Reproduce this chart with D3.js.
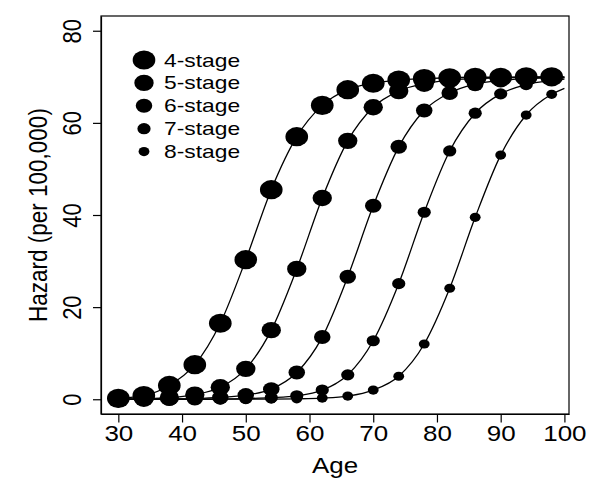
<!DOCTYPE html>
<html>
<head>
<meta charset="utf-8">
<script src="https://cdn.jsdelivr.net/npm/d3@7"></script>
<style>
  body { margin: 0; background: #fff; }
  text { font-family: "Liberation Sans", Arial, sans-serif; fill: #000; }
</style>
</head>
<body>
<svg id="chart"></svg>
<script>
// set svg size and plot margins
const width = 600;
const height = 489;

const margin = {
  top: 16,
  bottom: 75,
  left: 101,
  right: 31
};

// the reference is a bit wider than tall, so text and dots get stretched sideways
const SX = 1.18;

// values, one per age
const ages = [30, 34, 38, 42, 46, 50, 54, 58, 62, 66, 70, 74, 78, 82, 86, 90, 94, 98];

const stage4 = [0.2, 0.8, 3.0, 7.5, 16.5, 30.3, 45.5, 57.0, 63.8, 67.2, 68.6, 69.3, 69.6, 69.8, 69.9, 69.9, 70.0, 70.0];
const stage5 = [0.0, 0.1, 0.35, 1.0, 2.6, 6.6, 15.0, 28.3, 43.7, 56.1, 63.4, 66.9, 68.5, 69.3, 69.6, 69.8, 69.9, 69.9];
const stage6 = [0.0, 0.0, 0.05, 0.15, 0.4, 0.9, 2.2, 5.8, 13.5, 26.6, 42.0, 54.8, 62.7, 66.5, 68.4, 69.2, 69.6, 69.8];
const stage7 = [0.0, 0.0, 0.0, 0.02, 0.05, 0.15, 0.35, 0.75, 2.0, 5.3, 12.7, 25.1, 40.6, 53.9, 62.1, 66.3, 68.3, 69.2];
const stage8 = [0.0, 0.0, 0.0, 0.0, 0.01, 0.02, 0.05, 0.1, 0.25, 0.7, 2.0, 5.0, 12.0, 24.1, 39.5, 53.0, 61.7, 66.2];

// the fitted curves run on a little past the last dot
const endAge = 100;
const endValues = [70.0, 69.9, 69.8, 69.5, 67.5];

const stageNames = ["4-stage", "5-stage", "6-stage", "7-stage", "8-stage"];
const xTicks = [30, 40, 50, 60, 70, 80, 90, 100];
const yTicks = [0, 20, 40, 60, 80];

const series = [stage4, stage5, stage6, stage7, stage8];
const dotSize = [9.6, 8.2, 7.0, 5.6, 4.6];

const plotWidth = width - margin.left - margin.right;
const plotHeight = height - margin.top - margin.bottom;

const svg = d3.select("#chart")
  .attr("width", width)
  .attr("height", height);

const plot = svg.append("g")
  .attr("id", "plot")
  .attr("transform", translate(margin.left, margin.top));

// R pads the data range by 4% on each side
const xScale = d3.scaleLinear()
  .domain(pad([30, 98]))
  .range([0, plotWidth]);

const yScale = d3.scaleLinear()
  .domain(pad([0, 80]))
  .range([plotHeight, 0]);

drawAxis();
drawCurves();
drawLegend();
drawTitles();

function drawCurves() {
  let line = d3.line()
    .x(d => xScale(d[0]))
    .y(d => yScale(d[1]))
    .curve(d3.curveMonotoneX);

  series.forEach((values, i) => {
    let pts = ages.map((a, j) => [a, values[j]]);

    plot.append("path")
      .datum(pts.concat([[endAge, endValues[i]]]))
      .attr("d", line)
      .attr("fill", "none")
      .attr("stroke", "#000")
      .attr("stroke-width", 1.3);

    plot.append("g")
      .selectAll("ellipse")
      .data(pts)
      .enter()
      .append("ellipse")
      .attr("cx", d => xScale(d[0]))
      .attr("cy", d => yScale(d[1]))
      .attr("rx", dotSize[i] * SX)
      .attr("ry", dotSize[i])
      .attr("fill", "#000");
  });
}

function drawAxis() {
  let xAxis = d3.axisBottom(xScale).tickValues(xTicks).tickSize(8.5).tickSizeOuter(0);
  let yAxis = d3.axisLeft(yScale).tickValues(yTicks).tickSize(8).tickSizeOuter(0);

  let xg = plot.append("g")
    .attr("transform", translate(0, plotHeight))
    .call(xAxis);

  xg.selectAll("text")
    .attr("y", 27.3)
    .attr("dy", 0)
    .attr("transform", "scale(" + SX + ",1)")
    .style("font-size", "22px")
    .style("font-family", "'Liberation Sans', Arial, sans-serif");

  let yg = plot.append("g")
    .call(yAxis);

  yg.selectAll("text")
    .attr("x", 0)
    .attr("y", 0)
    .attr("dy", 0)
    .attr("text-anchor", "middle")
    .attr("transform", "translate(-20.5,0) scale(" + SX + ",1) rotate(-90)")
    .style("font-size", "22px")
    .style("font-family", "'Liberation Sans', Arial, sans-serif");

  plot.selectAll(".tick line, .domain")
    .attr("stroke", "#000")
    .attr("stroke-width", 1.2);

  // full box round the plot
  plot.append("rect")
    .attr("x", 0)
    .attr("y", 0)
    .attr("width", plotWidth)
    .attr("height", plotHeight)
    .attr("fill", "none")
    .attr("stroke", "#000")
    .attr("stroke-width", 1.2);
}

function drawLegend() {
  let legend = svg.append("g")
    .attr("id", "legend")
    .attr("transform", translate(144, 60));

  let rowGap = 22.9;

  stageNames.forEach((name, i) => {
    legend.append("ellipse")
      .attr("cx", 0)
      .attr("cy", i * rowGap)
      .attr("rx", dotSize[i] * SX)
      .attr("ry", dotSize[i])
      .attr("fill", "#000");

    legend.append("text")
      .attr("transform", translate(20, i * rowGap + 6.5) + " scale(1.24,1)")
      .style("font-size", "18.4px")
      .text(name);
  });
}

function drawTitles() {
  let xMiddle = margin.left + plotWidth / 2;
  let yMiddle = margin.top + plotHeight / 2;

  svg.append("text")
    .attr("class", "axis-title")
    .attr("transform", translate(xMiddle, 472.5) + " scale(" + SX + ",1)")
    .attr("text-anchor", "middle")
    .style("font-size", "22px")
    .text("Age");

  svg.append("text")
    .attr("class", "axis-title")
    .attr("transform", translate(46.7, yMiddle) + " scale(" + SX + ",1) rotate(-90)")
    .attr("text-anchor", "middle")
    .style("font-size", "22.5px")
    .text("Hazard (per 100,000)");
}

function pad(range) {
  let d = (range[1] - range[0]) * 0.04;
  return [range[0] - d, range[1] + d];
}

function translate(x, y) {
  return "translate(" + String(x) + "," + String(y) + ")";
}
</script>
</body>
</html>
